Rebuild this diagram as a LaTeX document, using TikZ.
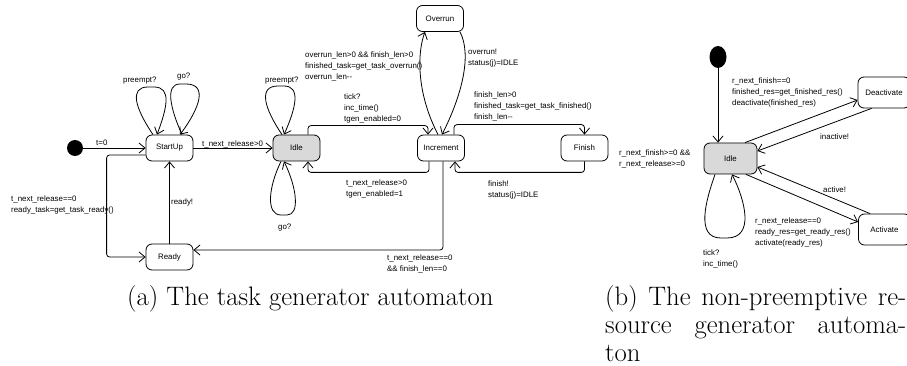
\documentclass[tikz,border=0pt]{standalone}
\usepackage{fontspec}
\newfontfamily\diagfont{Liberation Sans}
\usetikzlibrary{arrows.meta,calc,shapes.geometric}
\newcommand\lblfont{\diagfont\fontsize{7.9}{10.8}\selectfont}
\newcommand\capfont{\fontsize{26.7}{28}\selectfont}
\newcommand\dd{-\kern0pt-}
\begin{document}
\begin{tikzpicture}[x=1pt,y=-1pt,
  state/.style={draw, line width=0.8pt, rounded corners=6pt, minimum width=47pt, minimum height=26pt, inner sep=0pt, font=\lblfont},
  idle/.style={state, fill=black!15},
  init/.style={circle, fill=black, draw=none, minimum size=16pt, inner sep=0pt},
  tr/.style={draw, line width=0.8pt, rounded corners=3pt, -{Straight Barb[length=6pt,width=10pt,line width=0.8pt]}},
  lbl/.style={font=\lblfont, anchor=north west, align=left, inner sep=0pt},
  captxt/.style={font=\capfont, anchor=base west, inner sep=0pt}]
\useasboundingbox (0,0) rectangle (907,366);

% ---------- (a) task generator ----------
\node[init] (i1) at (75,148) {};
\node[state] (startup) at (169.5,148) {StartUp};
\node[state] (ready) at (169.5,257) {Ready};
\node[idle] (idleA) at (296.5,148) {Idle};
\node[state] (incr) at (441,148) {Increment};
\node[state] (finish) at (584.5,148) {Finish};
\node[state] (overrun) at (440,18.5) {Overrun};

\draw[tr] (i1) -- (startup.west);
\draw[tr] (startup.east) -- (idleA.west);
\draw[tr] (ready.north) -- (startup.south);
\draw[tr] ($(startup.west)+(0,7)$) -- ++(-39,0) |- (ready.west);
\draw[tr] ($(incr.south)+(2,0)$) |- ($(ready.east)+(0,-7)$);
\draw[tr] ($(idleA.north)+(11.5,0)$) -- ++(0,-9) -| ($(incr.north)+(-13,0)$);
\draw[tr] ($(incr.south)+(-12,0)$) -- ++(0,11) -| ($(idleA.south)+(11.5,0)$);
\draw[tr] ($(incr.north)+(13,0)$) -- ++(0,-10) -| (finish.north);
\draw[tr] (finish.south) -- ++(0,11) -| ($(incr.south)+(14,0)$);
\draw[tr] ($(incr.north)+(-3,0)$) .. controls (415,90) and (418,50) .. ($(overrun.south)+(-15,0)$);
\draw[tr] ($(overrun.south)+(20,0)$) .. controls (472,55) and (462,95) .. ($(incr.north)+(1,0)$);
% self loops
\draw[tr] ($(startup.north)+(-16.5,0)$) .. controls (135,108) and (129,87) .. (151,87) .. controls (172,87) and (167,108) .. ($(startup.north)+(-12.5,0)$);
\draw[tr] ($(startup.north)+(12.5,0)$) .. controls (170,108) and (165,84) .. (183,84) .. controls (208,84) and (200,108) .. ($(startup.north)+(10.5,0)$);
\draw[tr] ($(idleA.north)+(-14.5,0)$) .. controls (264,108) and (258,86) .. (281,86) .. controls (301,86) and (296,108) .. ($(idleA.north)+(-12.5,0)$);
\draw[tr] ($(idleA.south)+(-15.5,0)$) .. controls (268,188) and (266,215) .. (284,215) .. controls (300,215) and (297,188) .. ($(idleA.south)+(-12.5,0)$);

\node[lbl] at (96,140) {t=0};
\node[lbl] at (202,141) {t\_next\_release>0};
\node[lbl] at (171,199) {ready!};
\node[lbl] at (11,196) {t\_next\_release==0\\ready\_task=get\_task\_ready()};
\node[lbl] at (123,77) {preempt?};
\node[lbl] at (177,73) {go?};
\node[lbl] at (265,77) {preempt?};
\node[lbl] at (278,224) {go?};
\node[lbl] at (305,52) {overrun\_len>0 \&\& finish\_len>0\\finished\_task=get\_task\_overrun()\\overrun\_len\dd};
\node[lbl] at (468,49) {overrun!\\status(j)=IDLE};
\node[lbl] at (344,94) {tick?\\inc\_time()\\tgen\_enabled=0};
\node[lbl] at (346,180) {t\_next\_release>0\\tgen\_enabled=1};
\node[lbl] at (474,92) {finish\_len>0\\finished\_task=get\_task\_finished()\\finish\_len\dd};
\node[lbl] at (488,181) {finish!\\status(j)=IDLE};
\node[lbl] at (387,255) {t\_next\_release==0\\\&\& finish\_len==0};

% ---------- (b) resource generator ----------
\node[init, ellipse, minimum width=17pt, minimum height=22pt] (i2) at (718,57) {};
\node[idle, minimum width=53pt, minimum height=31pt] (idleB) at (730.5,158.5) {Idle};
\node[state, minimum width=52pt, minimum height=31pt] (deact) at (884,92.5) {Deactivate};
\node[state, minimum width=52pt, minimum height=31pt] (act) at (884.5,229.5) {Activate};

\draw[tr] (i2) -- (i2 |- idleB.north);
\draw[tr] ($(idleB.north)+(14.5,0)$) -- ($(deact.west)+(0,7.5)$);
\draw[tr] ($(deact.south west)+(14,0)$) -- ($(idleB.east)+(0,-7.5)$);
\draw[tr] ($(act.north west)+(12,0)$) -- ($(idleB.east)+(0,8.5)$);
\draw[tr] ($(idleB.south)+(15.5,0)$) -- ($(act.west)+(0,-7.5)$);
\draw[tr] ($(idleB.south)+(-15.5,0)$) .. controls (706,200) and (695,238) .. (724,238) .. controls (755,238) and (745,200) .. ($(idleB.south)+(1.5,0)$);

\node[lbl] at (619,150) {r\_next\_finish>=0 \&\&\\r\_next\_release>=0};
\node[lbl] at (732,78) {r\_next\_finish==0\\finished\_res=get\_finished\_res()\\deactivate(finished\_res)};
\node[lbl] at (820,134) {inactive!};
\node[lbl] at (823,187) {active!};
\node[lbl] at (755,218) {r\_next\_release==0\\ready\_res=get\_ready\_res()\\activate(ready\_res)};
\node[lbl] at (703,250) {tick?\\inc\_time()};

% ---------- captions ----------
\node[captxt] (capa) at (127,305) {(a) The task generator automaton};
\node[captxt] (capb1) at (605,305) {\makebox[301pt][s]{(b) The non-preemptive re-}};
\node[captxt] (capb2) at (605,333) {\makebox[301pt][s]{source generator automa-}};
\node[captxt] (capb3) at (605,361) {ton};
\end{tikzpicture}
\end{document}
